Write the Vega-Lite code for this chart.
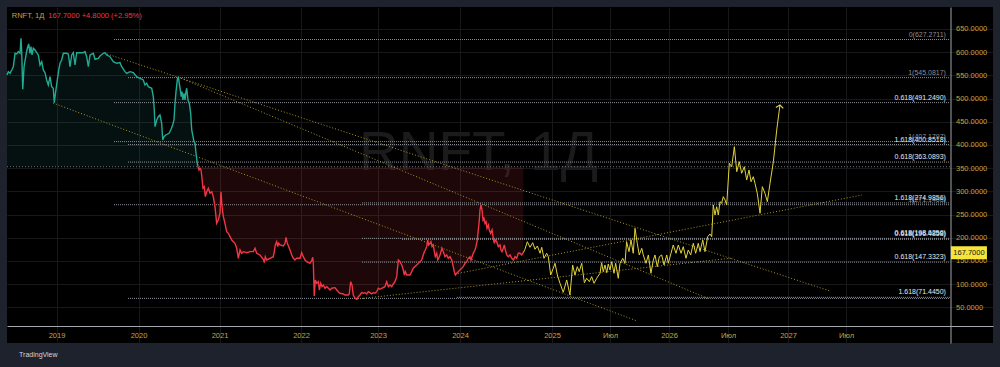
{
"$schema":"https://vega.github.io/schema/vega-lite/v6.json",
"width":986,"height":336,
"autosize":{"type":"none"},
"padding":{"left":7,"top":7,"right":7,"bottom":24},
"background":"#1e222d",
"config":{"view":{"fill":"#000000","stroke":null},"font":"Liberation Sans","axis":{"labelOverlap":false}},
"datasets":{
"price":[
{"t":2018.396,"v":550.8,"side":"above"},{"t":2018.412,"v":558,"side":"above"},{"t":2018.433,"v":554.5,"side":"above"},{"t":2018.454,"v":561.6,"side":"above"},{"t":2018.473,"v":568.7,"side":"above"},{"t":2018.494,"v":597.6,"side":"above"},{"t":2018.515,"v":596.1,"side":"above"},{"t":2018.534,"v":601.1,"side":"above"},{"t":2018.555,"v":597.6,"side":"above"},{"t":2018.567,"v":630,"side":"above"},{"t":2018.576,"v":597.6,"side":"above"},{"t":2018.588,"v":520,"side":"above"},{"t":2018.604,"v":568.7,"side":"above"},{"t":2018.628,"v":594,"side":"above"},{"t":2018.644,"v":608.4,"side":"above"},{"t":2018.661,"v":617.7,"side":"above"},{"t":2018.677,"v":597.6,"side":"above"},{"t":2018.689,"v":611.9,"side":"above"},{"t":2018.701,"v":594,"side":"above"},{"t":2018.717,"v":608.4,"side":"above"},{"t":2018.738,"v":604.7,"side":"above"},{"t":2018.759,"v":598.9,"side":"above"},{"t":2018.778,"v":594,"side":"above"},{"t":2018.799,"v":572.4,"side":"above"},{"t":2018.82,"v":579.5,"side":"above"},{"t":2018.839,"v":561.6,"side":"above"},{"t":2018.86,"v":555.8,"side":"above"},{"t":2018.88,"v":540.1,"side":"above"},{"t":2018.9,"v":529.3,"side":"above"},{"t":2018.921,"v":547.2,"side":"above"},{"t":2018.941,"v":525.6,"side":"above"},{"t":2018.961,"v":522.2,"side":"above"},{"t":2018.973,"v":491.1,"side":"above"},{"t":2018.99,"v":514.8,"side":"above"},{"t":2019.01,"v":540.1,"side":"above"},{"t":2019.027,"v":561.6,"side":"above"},{"t":2019.043,"v":576.1,"side":"above"},{"t":2019.063,"v":583.2,"side":"above"},{"t":2019.083,"v":597.6,"side":"above"},{"t":2019.124,"v":597.6,"side":"above"},{"t":2019.144,"v":596.1,"side":"above"},{"t":2019.165,"v":568.7,"side":"above"},{"t":2019.185,"v":594,"side":"above"},{"t":2019.205,"v":598.9,"side":"above"},{"t":2019.226,"v":572.4,"side":"above"},{"t":2019.246,"v":598.9,"side":"above"},{"t":2019.287,"v":598.9,"side":"above"},{"t":2019.327,"v":598.9,"side":"above"},{"t":2019.348,"v":601.1,"side":"above"},{"t":2019.368,"v":590.3,"side":"above"},{"t":2019.388,"v":568.7,"side":"above"},{"t":2019.409,"v":594,"side":"above"},{"t":2019.449,"v":597.6,"side":"above"},{"t":2019.47,"v":584.7,"side":"above"},{"t":2019.51,"v":586.8,"side":"above"},{"t":2019.53,"v":591.8,"side":"above"},{"t":2019.571,"v":597.6,"side":"above"},{"t":2019.591,"v":598.9,"side":"above"},{"t":2019.612,"v":594,"side":"above"},{"t":2019.652,"v":590.3,"side":"above"},{"t":2019.693,"v":579.5,"side":"above"},{"t":2019.734,"v":576.1,"side":"above"},{"t":2019.774,"v":577.4,"side":"above"},{"t":2019.795,"v":568.7,"side":"above"},{"t":2019.835,"v":558,"side":"above"},{"t":2019.856,"v":554.5,"side":"above"},{"t":2019.896,"v":558,"side":"above"},{"t":2019.937,"v":555.8,"side":"above"},{"t":2019.978,"v":547.2,"side":"above"},{"t":2020.019,"v":543.7,"side":"above"},{"t":2020.059,"v":540.1,"side":"above"},{"t":2020.08,"v":529.3,"side":"above"},{"t":2020.101,"v":533,"side":"above"},{"t":2020.121,"v":525.6,"side":"above"},{"t":2020.163,"v":522.2,"side":"above"},{"t":2020.183,"v":504.1,"side":"above"},{"t":2020.195,"v":475.4,"side":"above"},{"t":2020.204,"v":439.4,"side":"above"},{"t":2020.225,"v":453.8,"side":"above"},{"t":2020.244,"v":460.9,"side":"above"},{"t":2020.265,"v":464.6,"side":"above"},{"t":2020.286,"v":446.7,"side":"above"},{"t":2020.299,"v":410.7,"side":"above"},{"t":2020.315,"v":417.8,"side":"above"},{"t":2020.336,"v":421.5,"side":"above"},{"t":2020.377,"v":425.1,"side":"above"},{"t":2020.398,"v":432.3,"side":"above"},{"t":2020.422,"v":443,"side":"above"},{"t":2020.438,"v":453.8,"side":"above"},{"t":2020.451,"v":489.8,"side":"above"},{"t":2020.463,"v":514.8,"side":"above"},{"t":2020.479,"v":540.1,"side":"above"},{"t":2020.491,"v":547.2,"side":"above"},{"t":2020.516,"v":518.5,"side":"above"},{"t":2020.528,"v":504.1,"side":"above"},{"t":2020.537,"v":514.8,"side":"above"},{"t":2020.549,"v":496.9,"side":"above"},{"t":2020.562,"v":511.4,"side":"above"},{"t":2020.574,"v":496.9,"side":"above"},{"t":2020.586,"v":514.8,"side":"above"},{"t":2020.595,"v":522.2,"side":"above"},{"t":2020.611,"v":496.9,"side":"above"},{"t":2020.627,"v":489.8,"side":"above"},{"t":2020.644,"v":468.3,"side":"above"},{"t":2020.657,"v":432.3,"side":"above"},{"t":2020.669,"v":421.5,"side":"above"},{"t":2020.685,"v":407,"side":"above"},{"t":2020.698,"v":403.6,"side":"above"},{"t":2020.71,"v":382,"side":"above"},{"t":2020.726,"v":360.5,"side":"above"},{"t":2020.735,"v":353.1,"side":"above"},
{"t":2020.735,"v":353.1,"side":"below"},{"t":2020.747,"v":346,"side":"below"},{"t":2020.759,"v":349.7,"side":"below"},{"t":2020.772,"v":346,"side":"below"},{"t":2020.784,"v":328.1,"side":"below"},{"t":2020.796,"v":306.6,"side":"below"},{"t":2020.812,"v":310,"side":"below"},{"t":2020.825,"v":288.5,"side":"below"},{"t":2020.842,"v":299.2,"side":"below"},{"t":2020.862,"v":306.6,"side":"below"},{"t":2020.883,"v":295.8,"side":"below"},{"t":2020.904,"v":299.2,"side":"below"},{"t":2020.923,"v":288.5,"side":"below"},{"t":2020.944,"v":266.9,"side":"below"},{"t":2020.965,"v":231.1,"side":"below"},{"t":2020.985,"v":238.2,"side":"below"},{"t":2021.006,"v":252.7,"side":"below"},{"t":2021.018,"v":299.2,"side":"below"},{"t":2021.031,"v":266.9,"side":"below"},{"t":2021.047,"v":245.3,"side":"below"},{"t":2021.067,"v":231.1,"side":"below"},{"t":2021.088,"v":213,"side":"below"},{"t":2021.108,"v":209.5,"side":"below"},{"t":2021.129,"v":202.2,"side":"below"},{"t":2021.15,"v":195.1,"side":"below"},{"t":2021.169,"v":191.4,"side":"below"},{"t":2021.19,"v":188,"side":"below"},{"t":2021.211,"v":177.2,"side":"below"},{"t":2021.231,"v":155.6,"side":"below"},{"t":2021.252,"v":173.5,"side":"below"},{"t":2021.272,"v":166.4,"side":"below"},{"t":2021.292,"v":169.9,"side":"below"},{"t":2021.334,"v":167.7,"side":"below"},{"t":2021.374,"v":169.9,"side":"below"},{"t":2021.415,"v":169.9,"side":"below"},{"t":2021.436,"v":177.2,"side":"below"},{"t":2021.456,"v":166.4,"side":"below"},{"t":2021.497,"v":162.8,"side":"below"},{"t":2021.537,"v":153.5,"side":"below"},{"t":2021.55,"v":146.2,"side":"below"},{"t":2021.562,"v":159.1,"side":"below"},{"t":2021.579,"v":152,"side":"below"},{"t":2021.62,"v":155.6,"side":"below"},{"t":2021.66,"v":159.1,"side":"below"},{"t":2021.672,"v":169.9,"side":"below"},{"t":2021.685,"v":184.3,"side":"below"},{"t":2021.702,"v":191.4,"side":"below"},{"t":2021.714,"v":180.7,"side":"below"},{"t":2021.726,"v":188,"side":"below"},{"t":2021.742,"v":184.3,"side":"below"},{"t":2021.783,"v":182.2,"side":"below"},{"t":2021.804,"v":188,"side":"below"},{"t":2021.816,"v":200.9,"side":"below"},{"t":2021.832,"v":188,"side":"below"},{"t":2021.849,"v":180.7,"side":"below"},{"t":2021.865,"v":173.5,"side":"below"},{"t":2021.886,"v":162.8,"side":"below"},{"t":2021.906,"v":155.6,"side":"below"},{"t":2021.926,"v":152,"side":"below"},{"t":2021.947,"v":155.6,"side":"below"},{"t":2021.988,"v":155.6,"side":"below"},{"t":2022.009,"v":167.7,"side":"below"},{"t":2022.03,"v":159.1,"side":"below"},{"t":2022.052,"v":152,"side":"below"},{"t":2022.074,"v":148.3,"side":"below"},{"t":2022.117,"v":144.9,"side":"below"},{"t":2022.139,"v":150.5,"side":"below"},{"t":2022.152,"v":157.8,"side":"below"},{"t":2022.16,"v":144.9,"side":"below"},{"t":2022.172,"v":74.4,"side":"below"},{"t":2022.186,"v":108.9,"side":"below"},{"t":2022.204,"v":101.7,"side":"below"},{"t":2022.225,"v":105.2,"side":"below"},{"t":2022.238,"v":87.3,"side":"below"},{"t":2022.256,"v":101.7,"side":"below"},{"t":2022.273,"v":94.4,"side":"below"},{"t":2022.29,"v":98.1,"side":"below"},{"t":2022.312,"v":91,"side":"below"},{"t":2022.334,"v":94.4,"side":"below"},{"t":2022.355,"v":91,"side":"below"},{"t":2022.377,"v":87.3,"side":"below"},{"t":2022.399,"v":91,"side":"below"},{"t":2022.442,"v":92.3,"side":"below"},{"t":2022.464,"v":87.3,"side":"below"},{"t":2022.484,"v":83.6,"side":"below"},{"t":2022.506,"v":80.2,"side":"below"},{"t":2022.549,"v":78.7,"side":"below"},{"t":2022.571,"v":76.5,"side":"below"},{"t":2022.614,"v":76.5,"side":"below"},{"t":2022.627,"v":78.7,"side":"below"},{"t":2022.645,"v":105.2,"side":"below"},{"t":2022.662,"v":98.1,"side":"below"},{"t":2022.679,"v":76.5,"side":"below"},{"t":2022.701,"v":69.4,"side":"below"},{"t":2022.723,"v":67.2,"side":"below"},{"t":2022.744,"v":72.9,"side":"below"},{"t":2022.766,"v":76.5,"side":"below"},{"t":2022.788,"v":81.5,"side":"below"},{"t":2022.809,"v":80.2,"side":"below"},{"t":2022.831,"v":81.5,"side":"below"},{"t":2022.853,"v":78.7,"side":"below"},{"t":2022.874,"v":83.6,"side":"below"},{"t":2022.896,"v":81.5,"side":"below"},{"t":2022.918,"v":78.7,"side":"below"},{"t":2022.939,"v":81.5,"side":"below"},{"t":2022.961,"v":80.2,"side":"below"},{"t":2022.983,"v":83.6,"side":"below"},{"t":2023.004,"v":91,"side":"below"},{"t":2023.024,"v":88.8,"side":"below"},{"t":2023.045,"v":91,"side":"below"},{"t":2023.085,"v":94.4,"side":"below"},{"t":2023.106,"v":105.2,"side":"below"},{"t":2023.126,"v":94.4,"side":"below"},{"t":2023.146,"v":98.1,"side":"below"},{"t":2023.167,"v":94.4,"side":"below"},{"t":2023.187,"v":100.2,"side":"below"},{"t":2023.207,"v":105.2,"side":"below"},{"t":2023.228,"v":116,"side":"below"},{"t":2023.248,"v":152,"side":"below"},{"t":2023.268,"v":148.3,"side":"below"},{"t":2023.289,"v":141.2,"side":"below"},{"t":2023.309,"v":130.4,"side":"below"},{"t":2023.321,"v":119.6,"side":"below"},{"t":2023.333,"v":126.8,"side":"below"},{"t":2023.35,"v":119.6,"side":"below"},{"t":2023.39,"v":119.6,"side":"below"},{"t":2023.411,"v":126.8,"side":"below"},{"t":2023.43,"v":134.1,"side":"below"},{"t":2023.472,"v":141.2,"side":"below"},{"t":2023.512,"v":148.3,"side":"below"},{"t":2023.533,"v":152,"side":"below"},{"t":2023.552,"v":162.8,"side":"below"},{"t":2023.565,"v":169.9,"side":"below"},{"t":2023.577,"v":173.5,"side":"below"},{"t":2023.594,"v":180.7,"side":"below"},{"t":2023.606,"v":195.1,"side":"below"},{"t":2023.618,"v":184.3,"side":"below"},{"t":2023.634,"v":188,"side":"below"},{"t":2023.646,"v":191.4,"side":"below"},{"t":2023.659,"v":180.7,"side":"below"},{"t":2023.674,"v":184.3,"side":"below"},{"t":2023.687,"v":169.9,"side":"below"},{"t":2023.699,"v":159.1,"side":"below"},{"t":2023.716,"v":166.4,"side":"below"},{"t":2023.728,"v":152,"side":"below"},{"t":2023.74,"v":155.6,"side":"below"},{"t":2023.756,"v":162.8,"side":"below"},{"t":2023.768,"v":169.9,"side":"below"},{"t":2023.78,"v":177.2,"side":"below"},{"t":2023.796,"v":169.9,"side":"below"},{"t":2023.817,"v":159.1,"side":"below"},{"t":2023.838,"v":162.8,"side":"below"},{"t":2023.857,"v":155.6,"side":"below"},{"t":2023.878,"v":159.1,"side":"below"},{"t":2023.899,"v":152,"side":"below"},{"t":2023.918,"v":137.5,"side":"below"},{"t":2023.93,"v":126.8,"side":"below"},{"t":2023.943,"v":119.6,"side":"below"},{"t":2023.96,"v":123.3,"side":"below"},{"t":2023.979,"v":126.8,"side":"below"},{"t":2024.0,"v":130.4,"side":"below"},{"t":2024.039,"v":137.5,"side":"below"},{"t":2024.06,"v":144.9,"side":"below"},{"t":2024.08,"v":148.3,"side":"below"},{"t":2024.099,"v":155.6,"side":"below"},{"t":2024.12,"v":159.1,"side":"below"},{"t":2024.132,"v":152,"side":"below"},{"t":2024.144,"v":159.1,"side":"below"},{"t":2024.159,"v":166.4,"side":"below"},{"t":2024.179,"v":173.5,"side":"below"},{"t":2024.191,"v":180.7,"side":"below"},{"t":2024.207,"v":195.1,"side":"below"},{"t":2024.219,"v":216.7,"side":"below"},{"t":2024.231,"v":238.2,"side":"below"},{"t":2024.239,"v":259.8,"side":"below"},{"t":2024.251,"v":270.6,"side":"below"},{"t":2024.263,"v":259.8,"side":"below"},{"t":2024.275,"v":238.2,"side":"below"},{"t":2024.287,"v":241.9,"side":"below"},{"t":2024.299,"v":231.1,"side":"below"},{"t":2024.311,"v":234.6,"side":"below"},{"t":2024.323,"v":220.3,"side":"below"},{"t":2024.339,"v":227.4,"side":"below"},{"t":2024.35,"v":216.7,"side":"below"},{"t":2024.367,"v":209.5,"side":"below"},{"t":2024.383,"v":216.7,"side":"below"},{"t":2024.398,"v":198.8,"side":"below"},{"t":2024.41,"v":188,"side":"below"},{"t":2024.422,"v":195.1,"side":"below"},{"t":2024.439,"v":191.4,"side":"below"},{"t":2024.458,"v":180.7,"side":"below"},{"t":2024.478,"v":184.3,"side":"below"},{"t":2024.49,"v":173.5,"side":"below"},{"t":2024.502,"v":169.9,"side":"below"},{"t":2024.518,"v":177.2,"side":"below"},{"t":2024.53,"v":184.3,"side":"below"},{"t":2024.542,"v":173.5,"side":"below"},{"t":2024.559,"v":162.8,"side":"below"},{"t":2024.578,"v":159.1,"side":"below"},{"t":2024.598,"v":162.8,"side":"below"},{"t":2024.619,"v":155.6,"side":"below"},{"t":2024.638,"v":152,"side":"below"},{"t":2024.658,"v":159.1,"side":"below"},{"t":2024.678,"v":155.6,"side":"below"},{"t":2024.697,"v":166.4,"side":"below"},{"t":2024.718,"v":166.4,"side":"below"},{"t":2024.738,"v":162.8,"side":"below"},{"t":2024.757,"v":167.7,"side":"below"}
],
"fc":[
{"t":2024.757,"v":167.7},{"t":2024.771,"v":175},{"t":2024.791,"v":191.4},{"t":2024.814,"v":179.4},{"t":2024.837,"v":189.3},{"t":2024.856,"v":175},{"t":2024.876,"v":182.2},{"t":2024.899,"v":166.4},{"t":2024.913,"v":179.4},{"t":2024.932,"v":155.6},{"t":2024.955,"v":166.4},{"t":2024.969,"v":159.1},{"t":2024.989,"v":119.6},{"t":2025.011,"v":134.1},{"t":2025.026,"v":144.9},{"t":2025.046,"v":119.6},{"t":2025.069,"v":101.7},{"t":2025.097,"v":82.3},{"t":2025.127,"v":108.9},{"t":2025.155,"v":76.5},{"t":2025.178,"v":141.2},{"t":2025.198,"v":119.6},{"t":2025.218,"v":137.5},{"t":2025.235,"v":126.8},{"t":2025.256,"v":144.9},{"t":2025.279,"v":103},{"t":2025.299,"v":112.5},{"t":2025.322,"v":105.2},{"t":2025.342,"v":116},{"t":2025.362,"v":101.7},{"t":2025.385,"v":112.5},{"t":2025.414,"v":123.3},{"t":2025.428,"v":146.2},{"t":2025.442,"v":126.8},{"t":2025.457,"v":141.2},{"t":2025.472,"v":124.6},{"t":2025.485,"v":143.4},{"t":2025.5,"v":130.4},{"t":2025.514,"v":148.3},{"t":2025.534,"v":123.3},{"t":2025.548,"v":144.9},{"t":2025.57,"v":112.5},{"t":2025.585,"v":144.9},{"t":2025.608,"v":155.6},{"t":2025.627,"v":144.9},{"t":2025.641,"v":191.4},{"t":2025.661,"v":169.9},{"t":2025.678,"v":195.1},{"t":2025.697,"v":166.4},{"t":2025.712,"v":220.3},{"t":2025.731,"v":188},{"t":2025.748,"v":162.8},{"t":2025.769,"v":177.2},{"t":2025.782,"v":162.8},{"t":2025.805,"v":144.9},{"t":2025.825,"v":162.8},{"t":2025.847,"v":123.3},{"t":2025.867,"v":152},{"t":2025.881,"v":162.8},{"t":2025.901,"v":137.5},{"t":2025.918,"v":159.1},{"t":2025.938,"v":162.8},{"t":2025.958,"v":141.2},{"t":2025.981,"v":162.8},{"t":2025.994,"v":144.9},{"t":2026.017,"v":166.4},{"t":2026.036,"v":184.3},{"t":2026.059,"v":166.4},{"t":2026.079,"v":184.3},{"t":2026.102,"v":166.4},{"t":2026.121,"v":180.7},{"t":2026.144,"v":155.6},{"t":2026.163,"v":173.5},{"t":2026.184,"v":162.8},{"t":2026.206,"v":188},{"t":2026.226,"v":166.4},{"t":2026.248,"v":188},{"t":2026.263,"v":169.9},{"t":2026.286,"v":195.1},{"t":2026.305,"v":169.9},{"t":2026.328,"v":202.2},{"t":2026.347,"v":208},{"t":2026.362,"v":202.2},{"t":2026.375,"v":270.6},{"t":2026.39,"v":249},{"t":2026.404,"v":266.9},{"t":2026.418,"v":249},{"t":2026.432,"v":277.7},{"t":2026.446,"v":274.2},{"t":2026.46,"v":288.5},{"t":2026.475,"v":281.3},{"t":2026.489,"v":270.6},{"t":2026.511,"v":360.5},{"t":2026.531,"v":353.1},{"t":2026.553,"v":396.3},{"t":2026.573,"v":342.4},{"t":2026.594,"v":363.9},{"t":2026.614,"v":338.9},{"t":2026.636,"v":353.1},{"t":2026.656,"v":324.5},{"t":2026.675,"v":346},{"t":2026.692,"v":320.8},{"t":2026.711,"v":331.6},{"t":2026.725,"v":317.3},{"t":2026.744,"v":295.8},{"t":2026.767,"v":252.7},{"t":2026.786,"v":310},{"t":2026.808,"v":295.8},{"t":2026.828,"v":277.7},{"t":2026.85,"v":317.3},{"t":2026.878,"v":363.9},{"t":2026.906,"v":432.3},{"t":2026.933,"v":486.2}
],
"fib":[
{"level":"0","v":627.2711,"t0":2019.701,"label":"0(627.2711)"},
{"level":"1","v":545.0817,"t0":2019.872,"label":"1(545.0817)"},
{"level":"0.618","v":491.249,"t0":2019.701,"label":"0.618(491.2490)"},
{"level":"1","v":407.1797,"t0":2019.701,"label":"1(407.1797)"},
{"level":"1.618","v":400.8518,"t0":2019.872,"label":"1.618(400.8518)"},
{"level":"0.618","v":363.0893,"t0":2019.872,"label":"0.618(363.0893)"},
{"level":"1","v":271.1466,"t0":2019.701,"label":"1(271.1466)"},
{"level":"1.618","v":274.9856,"t0":2022.792,"label":"1.618(274.9856)"},
{"level":"0.618","v":196.4858,"t0":2023.293,"label":"0.618(196.4858)"},
{"level":"0.618","v":198.6256,"t0":2022.792,"label":"0.618(198.6256)"},
{"level":"0.618","v":147.3323,"t0":2022.792,"label":"0.618(147.3323)"},
{"level":"0","v":69.2,"t0":2019.872,"label":""},
{"level":"1.618","v":71.445,"t0":2023.963,"label":"1.618(71.4450)"}
],
"trend":[
{"id":"A","t":2019.616,"v":596.1},{"id":"A","t":2027.362,"v":85.1},
{"id":"B","t":2020.488,"v":546.5},{"id":"B","t":2026.339,"v":67.9},
{"id":"C","t":2018.957,"v":490.5},{"id":"C","t":2025.729,"v":20.5},
{"id":"D","t":2023.939,"v":121.8},{"id":"D","t":2027.636,"v":292.1},
{"id":"E","t":2022.727,"v":67.9},{"id":"E","t":2026.542,"v":156.3}
]
},
"layer":[
{"data":{"values":[{"txt":"RNFT, 1Д"}]},"mark":{"type":"text","fontSize":55,"color":"#1b1b1b","align":"center","baseline":"alphabetic"},"encoding":{
"x":{"datum":2024.221,"type":"quantitative","scale":{"domain":[2018.396,2019,2020,2021,2022,2023,2024,2024.757,2025,2025.5,2026,2026.5,2027,2027.5,2028,2028.746],"range":[0,49.5,131.5,212.5,294,371,453,516.3,545,603,662,721,781,839,898,986],"nice":false,"zero":false}},
"y":{"datum":346,"type":"quantitative","scale":{"domain":[-27,697.4],"nice":false,"zero":false}},
"text":{"field":"txt"}}},
{"data":{"name":"price"},"mark":{"type":"area","interpolate":"linear"},"encoding":{
"x":{"field":"t","type":"quantitative","scale":{"domain":[2018.396,2019,2020,2021,2022,2023,2024,2024.757,2025,2025.5,2026,2026.5,2027,2027.5,2028,2028.746],"range":[0,49.5,131.5,212.5,294,371,453,516.3,545,603,662,721,781,839,898,986],"nice":false,"zero":false}},
"y":{"field":"v","type":"quantitative","scale":{"domain":[-27,697.4],"nice":false,"zero":false}},
"y2":{"datum":353},"fill":{"field":"side","type":"nominal","scale":{"domain":["above","below"],"range":["rgba(38,166,154,0.10)","rgba(242,54,69,0.12)"]},"legend":null}}},
{"data":{"values":[{"base":353}]},"mark":{"type":"rule","color":"#6f7279","strokeDash":[1,2],"strokeWidth":1},"encoding":{
"x":{"datum":2018.396,"type":"quantitative","scale":{"domain":[2018.396,2019,2020,2021,2022,2023,2024,2024.757,2025,2025.5,2026,2026.5,2027,2027.5,2028,2028.746],"range":[0,49.5,131.5,212.5,294,371,453,516.3,545,603,662,721,781,839,898,986],"nice":false,"zero":false}},
"x2":{"datum":2028.381},
"y":{"field":"base","type":"quantitative","scale":{"domain":[-27,697.4],"nice":false,"zero":false}}}},
{"data":{"name":"fib"},"mark":{"type":"rule","color":"#8d9097","strokeDash":[1,1],"strokeWidth":1},"encoding":{
"x":{"field":"t0","type":"quantitative","scale":{"domain":[2018.396,2019,2020,2021,2022,2023,2024,2024.757,2025,2025.5,2026,2026.5,2027,2027.5,2028,2028.746],"range":[0,49.5,131.5,212.5,294,371,453,516.3,545,603,662,721,781,839,898,986],"nice":false,"zero":false}},
"x2":{"datum":2028.381},
"y":{"field":"v","type":"quantitative","scale":{"domain":[-27,697.4],"nice":false,"zero":false}}}},
{"data":{"name":"fib"},"mark":{"type":"text","align":"right","baseline":"bottom","dx":-4,"dy":-2,"fontSize":7},"encoding":{
"x":{"datum":2028.381,"type":"quantitative","scale":{"domain":[2018.396,2019,2020,2021,2022,2023,2024,2024.757,2025,2025.5,2026,2026.5,2027,2027.5,2028,2028.746],"range":[0,49.5,131.5,212.5,294,371,453,516.3,545,603,662,721,781,839,898,986],"nice":false,"zero":false}},
"y":{"field":"v","type":"quantitative","scale":{"domain":[-27,697.4],"nice":false,"zero":false}},
"text":{"field":"label"},"color":{"field":"level","type":"nominal","scale":{"domain":["0","1","0.618","1.618"],"range":["#8a8d94","#8a8d94","#e6e8ee","#e6e8ee"]},"legend":null}}},
{"data":{"name":"trend"},"mark":{"type":"line","color":"#a8952a","strokeDash":[1,2],"strokeWidth":1},"encoding":{
"x":{"field":"t","type":"quantitative","scale":{"domain":[2018.396,2019,2020,2021,2022,2023,2024,2024.757,2025,2025.5,2026,2026.5,2027,2027.5,2028,2028.746],"range":[0,49.5,131.5,212.5,294,371,453,516.3,545,603,662,721,781,839,898,986],"nice":false,"zero":false}},
"y":{"field":"v","type":"quantitative","scale":{"domain":[-27,697.4],"nice":false,"zero":false}},
"detail":{"field":"id"}}},
{"data":{"name":"price"},"mark":{"type":"line","strokeWidth":1.4},"encoding":{
"x":{"field":"t","type":"quantitative","scale":{"domain":[2018.396,2019,2020,2021,2022,2023,2024,2024.757,2025,2025.5,2026,2026.5,2027,2027.5,2028,2028.746],"range":[0,49.5,131.5,212.5,294,371,453,516.3,545,603,662,721,781,839,898,986],"nice":false,"zero":false},
"axis":{"orient":"bottom","offset":-17,"values":[2019,2020,2021,2022,2023,2024,2025,2025.5,2026,2026.5,2027,2027.5],"tickCount":40,"labelExpr":"datum.value % 1 != 0 ? 'Июл' : format(datum.value, 'd')","title":null,"ticks":false,"grid":true,"gridColor":"#181818","domainColor":"#a3a6ad","labelColor":"#c8a23c","labelFontSize":7.5,"labelPadding":5,"labelFlush":false,"labelOverlap":false,"labelBound":false}},
"y":{"field":"v","type":"quantitative","scale":{"domain":[-27,697.4],"nice":false,"zero":false},
"axis":{"orient":"right","offset":-42.5,"values":[50,100,150,200,250,300,350,400,450,500,550,600,650],"tickCount":40,"format":".4f","title":null,"ticks":false,"grid":true,"gridColor":"#181818","domainColor":"#a3a6ad","labelColor":"#c8a23c","labelFontSize":7.5,"labelPadding":5,"labelFlush":false,"labelOverlap":false,"labelBound":false}},
"stroke":{"field":"side","type":"nominal","scale":{"domain":["above","below"],"range":["#22ab94","#f23645"]},"legend":null}}},
{"data":{"name":"fc"},"mark":{"type":"line","color":"#e2d43a","strokeWidth":1},"encoding":{
"x":{"field":"t","type":"quantitative","scale":{"domain":[2018.396,2019,2020,2021,2022,2023,2024,2024.757,2025,2025.5,2026,2026.5,2027,2027.5,2028,2028.746],"range":[0,49.5,131.5,212.5,294,371,453,516.3,545,603,662,721,781,839,898,986],"nice":false,"zero":false}},
"y":{"field":"v","type":"quantitative","scale":{"domain":[-27,697.4],"nice":false,"zero":false}}}},
{"data":{"values":[{"t":2026.933,"v":486.2}]},"mark":{"type":"point","shape":"M-1,0.8L0,0L1,0.8","filled":false,"size":56,"strokeWidth":1.2,"color":"#e2d43a","angle":7.5,"opacity":1},"encoding":{
"x":{"field":"t","type":"quantitative","scale":{"domain":[2018.396,2019,2020,2021,2022,2023,2024,2024.757,2025,2025.5,2026,2026.5,2027,2027.5,2028,2028.746],"range":[0,49.5,131.5,212.5,294,371,453,516.3,545,603,662,721,781,839,898,986],"nice":false,"zero":false}},
"y":{"field":"v","type":"quantitative","scale":{"domain":[-27,697.4],"nice":false,"zero":false}}}},
{"data":{"values":[{"v":167.7,"txt":"167.7000"}]},"mark":{"type":"point","shape":"M-1.385,-0.5H1.385V0.5H-1.385Z","filled":true,"size":676,"color":"#f7e43b","opacity":1},"encoding":{
"x":{"datum":2028.542,"type":"quantitative","scale":{"domain":[2018.396,2019,2020,2021,2022,2023,2024,2024.757,2025,2025.5,2026,2026.5,2027,2027.5,2028,2028.746],"range":[0,49.5,131.5,212.5,294,371,453,516.3,545,603,662,721,781,839,898,986],"nice":false,"zero":false}},
"y":{"field":"v","type":"quantitative","scale":{"domain":[-27,697.4],"nice":false,"zero":false}}}},
{"data":{"values":[{"v":167.7,"txt":"167.7000"}]},"mark":{"type":"text","fontSize":7.5,"color":"#131722","align":"center","baseline":"middle"},"encoding":{
"x":{"datum":2028.542,"type":"quantitative","scale":{"domain":[2018.396,2019,2020,2021,2022,2023,2024,2024.757,2025,2025.5,2026,2026.5,2027,2027.5,2028,2028.746],"range":[0,49.5,131.5,212.5,294,371,453,516.3,545,603,662,721,781,839,898,986],"nice":false,"zero":false}},
"y":{"field":"v","type":"quantitative","scale":{"domain":[-27,697.4],"nice":false,"zero":false}},
"text":{"field":"txt"}}},
{"data":{"values":[{"txt":"RNFT, 1Д"}]},"mark":{"type":"text","fontSize":7.5,"color":"#c8a23c","align":"left","baseline":"middle"},"encoding":{
"x":{"datum":2018.454,"type":"quantitative","scale":{"domain":[2018.396,2019,2020,2021,2022,2023,2024,2024.757,2025,2025.5,2026,2026.5,2027,2027.5,2028,2028.746],"range":[0,49.5,131.5,212.5,294,371,453,516.3,545,603,662,721,781,839,898,986],"nice":false,"zero":false}},
"y":{"datum":678.7,"type":"quantitative","scale":{"domain":[-27,697.4],"nice":false,"zero":false}},
"text":{"field":"txt"}}},
{"data":{"values":[{"txt":"167.7000  +4.8000 (+2.95%)"}]},"mark":{"type":"text","fontSize":7.5,"color":"#f23645","align":"left","baseline":"middle"},"encoding":{
"x":{"datum":2018.9,"type":"quantitative","scale":{"domain":[2018.396,2019,2020,2021,2022,2023,2024,2024.757,2025,2025.5,2026,2026.5,2027,2027.5,2028,2028.746],"range":[0,49.5,131.5,212.5,294,371,453,516.3,545,603,662,721,781,839,898,986],"nice":false,"zero":false}},
"y":{"datum":678.7,"type":"quantitative","scale":{"domain":[-27,697.4],"nice":false,"zero":false}},
"text":{"field":"txt"}}},
{"data":{"values":[{"txt":"TradingView"}]},"mark":{"type":"text","fontSize":7,"color":"#d1d4dc","align":"left","baseline":"middle"},"encoding":{
"x":{"datum":2018.543,"type":"quantitative","scale":{"domain":[2018.396,2019,2020,2021,2022,2023,2024,2024.757,2025,2025.5,2026,2026.5,2027,2027.5,2028,2028.746],"range":[0,49.5,131.5,212.5,294,371,453,516.3,545,603,662,721,781,839,898,986],"nice":false,"zero":false}},
"y":{"datum":-52.8,"type":"quantitative","scale":{"domain":[-27,697.4],"nice":false,"zero":false}},
"text":{"field":"txt"}}}
]
}
